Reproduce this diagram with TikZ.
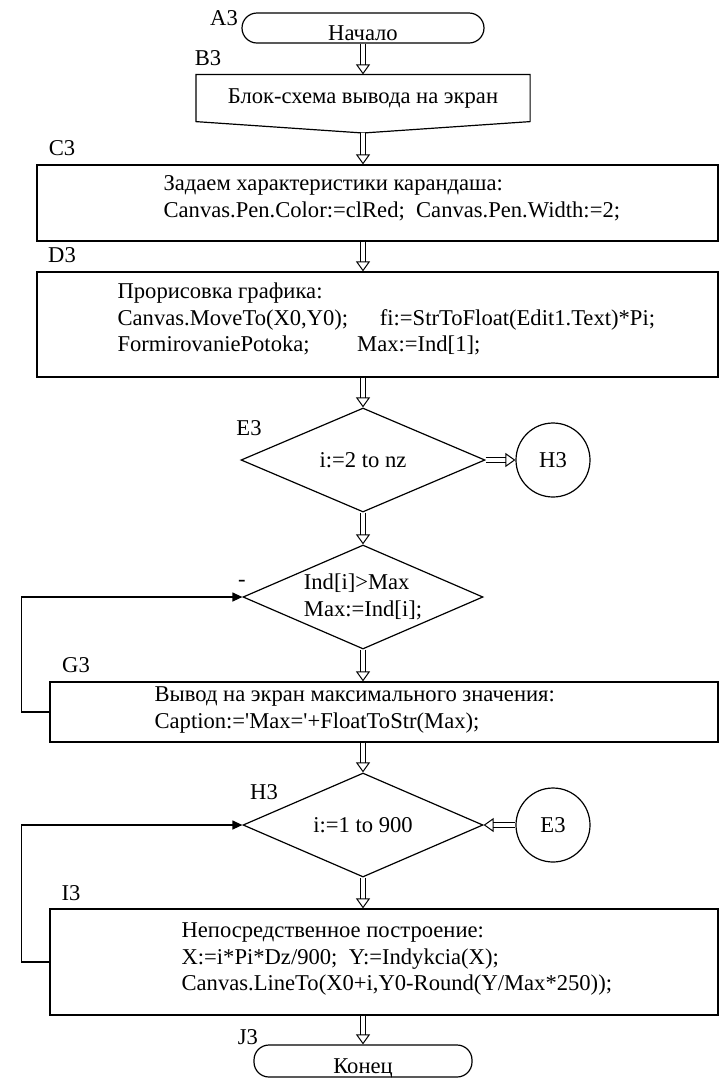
\documentclass[tikz,border=0pt]{standalone}
\usepackage{fontspec}
\setmainfont{Liberation Serif}
\usetikzlibrary{shapes.geometric,arrows.meta}

\begin{document}
\begin{tikzpicture}[x=0.5pt, y=-0.5pt, line width=0.6pt,
    font=\fontsize{11.3}{13.3}\selectfont,
    term/.style={draw, rectangle, rounded corners=7.5pt, inner sep=1pt, text height=12.4pt, text depth=0pt},
    blk/.style={draw, rectangle, minimum width=340.5pt},
    txt/.style={anchor=west, align=left, inner sep=0pt},
    cond/.style={draw, diamond, aspect=2.3, inner sep=0pt, minimum width=120pt, minimum height=52pt},
    conn/.style={draw, circle, minimum size=37pt, inner sep=0pt},
    lbl/.style={inner sep=0pt},
    dbl/.style={double, double distance=2pt, line width=0.5pt, -{Triangle[open, width=7pt, length=5pt]}},
    back/.style={-{Triangle[width=4.5pt, length=5pt]}}]

    \useasboundingbox (0,0) rectangle (720,1078);

    \node[term, minimum width=121pt, minimum height=15pt] (a3) at (363,28) {Начало};
    \node[lbl] (la3) at (224,18) {A3};

    \node[minimum width=166.5pt, minimum height=23pt] (b3) at (363,98) {Блок-схема вывода на экран};
    \coordinate (b3tip) at (363,133);
    \draw (b3.north west) -- (b3.north east) -- (b3.south east) -- (b3tip) -- (b3.south west) -- cycle;
    \node[lbl] (lb3) at (208,58) {B3};

    \node[blk, minimum height=38pt] (c3) at (377.5,203) {};
    \node[txt] (c3t) at (163,198.5) {Задаем характеристики карандаша:\\Canvas.Pen.Color:=clRed;\ \ Canvas.Pen.Width:=2;};
    \node[lbl] (lc3) at (62,148) {C3};

    \node[blk, minimum height=52.5pt] (d3) at (377.5,324.5) {};
    \node[txt] (d3t) at (117,319) {Прорисовка графика:\\Canvas.MoveTo(X0,Y0);\hspace{1.4em}fi:=StrToFloat(Edit1.Text)*Pi;\\FormirovaniePotoka;\hspace{2.1em}Max:=Ind[1];};
    \node[lbl] (ld3) at (62,255) {D3};

    \node[cond, minimum width=122pt] (e3) at (363,460) {i:=2 to nz};
    \node[lbl] (le3) at (249,428) {E3};
    \node[conn] (h3c) at (553,460) {H3};

    \node[cond, align=left] (f3) at (363,597) {Ind[i]>Max\\Max:=Ind[i];};
    \node[lbl] (lf3) at (242,583) {-};

    \node[draw, minimum width=334pt, minimum height=30pt] (g3) at (384,712) {};
    \node[txt] (g3t) at (154,710) {Вывод на экран максимального значения:\\Caption:=\textquotesingle Max=\textquotesingle +FloatToStr(Max);};
    \node[lbl] (lg3) at (76,665) {G3};

    \node[cond] (h3) at (363,825) {i:=1 to 900};
    \node[lbl] (lh3) at (264,792) {H3};
    \node[conn] (e3c) at (553,825) {E3};

    \node[draw, minimum width=334pt, minimum height=53pt] (i3) at (384,962) {};
    \node[txt] (i3t) at (181,959) {Непосредственное построение:\\X:=i*Pi*Dz/900;\ \ Y:=Indykcia(X);\\Canvas.LineTo(X0+i,Y0-Round(Y/Max*250));};
    \node[lbl] (li3) at (71,893) {I3};

    \node[term, minimum width=109pt, minimum height=16pt] (j3) at (363,1061) {Конец};
    \node[lbl] (lj3) at (248,1037) {J3};

    \draw[dbl] (a3) -- (b3);
    \draw[dbl] (b3tip) -- (c3.north -| b3tip);
    \draw[dbl] (c3.south -| b3tip) -- (d3.north -| b3tip);
    \draw[dbl] (d3.south -| e3) -- (e3);
    \draw[dbl] (e3) -- (f3);
    \draw[dbl] (e3) -- (h3c);
    \draw[dbl] (f3) -- (g3.north -| f3);
    \draw[dbl] (g3.south -| h3) -- (h3);
    \draw[dbl] (e3c) -- (h3);
    \draw[dbl] (h3) -- (i3.north -| h3);
    \draw[dbl] (i3.south -| j3) -- (j3);

    \draw[back] (g3.west) -- ++(-28,0) |- (f3.west);
    \draw[back] (i3.west) -- ++(-28,0) |- (h3.west);
\end{tikzpicture}
\end{document}
